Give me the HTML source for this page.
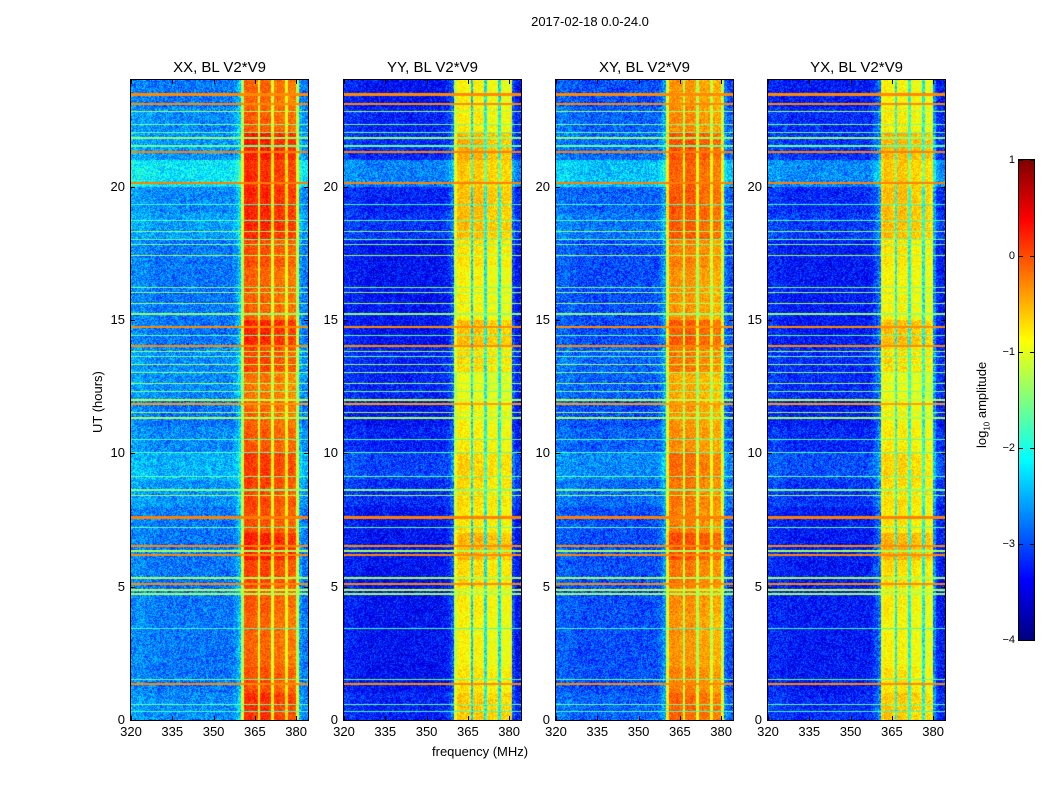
<!DOCTYPE html>
<html><head><meta charset="utf-8">
<style>
html,body{margin:0;padding:0;background:#fff;}
body{width:1050px;height:800px;position:relative;overflow:hidden;font-family:"Liberation Sans",sans-serif;color:#000;}
.t{position:absolute;white-space:nowrap;}
canvas{position:absolute;}
.frame{position:absolute;border:1px solid #000;box-sizing:border-box;}
</style></head>
<body>
<div class="t" style="left:0;width:1180px;text-align:center;top:14px;font-size:13px;">2017-02-18 0.0-24.0</div>
<div class="t" style="left:90px;top:433px;font-size:13px;transform:rotate(-90deg);transform-origin:left top;">UT (hours)</div>
<div class="t" style="left:432px;top:744px;font-size:13px;">frequency (MHz)</div>
<div id="root"></div>
<script>
// ---- data ----
const panelTitles = ["XX, BL V2*V9","YY, BL V2*V9","XY, BL V2*V9","YX, BL V2*V9"];
const panelLefts = [131,344,556,768];
const xTicks = [320,335,350,365,380];
const yTicks = [0,5,10,15,20];
const cbTicks = [1,0,-1,-2,-3,-4];
const freqStart = 320, freqEnd = 384.3, hourStart = 0, hourEnd = 24;
// log10 amplitude per 1-MHz channel (320..383) per polarisation
const profXX = [-2.4,-2.4,-2.4,-2.4,-2.4,-2.45,-2.45,-2.45,-2.45,-2.5,-2.5,-2.5,-2.5,-2.5,-2.5,-2.5,-2.5,-2.5,-2.5,-2.5,-2.5,-2.5,-2.5,-2.5,-2.5,-2.5,-2.5,-2.5,-2.5,-2.5,-2.5,-2.5,-2.5,-2.5,-2.5,-2.5,-2.5,-2.4,-2.3,-2.1,-1.5,-0.3,-0.25,-0.3,-0.3,-0.35,-1.3,-0.3,-0.3,-0.3,-0.35,-1.3,-0.4,-0.35,-0.4,-0.4,-1.2,-0.4,-0.4,-0.45,-1.4,-2.3,-2.5,-2.5];
const profYY = [-3.1,-3.1,-3.1,-3.1,-3.1,-3.15,-3.15,-3.15,-3.2,-3.2,-3.2,-3.2,-3.2,-3.2,-3.2,-3.2,-3.2,-3.2,-3.2,-3.2,-3.2,-3.2,-3.2,-3.2,-3.2,-3.2,-3.2,-3.2,-3.2,-3.2,-3.2,-3.2,-3.2,-3.2,-3.2,-3.2,-3.2,-3.1,-3.0,-2.8,-1.3,-0.9,-0.85,-0.9,-0.9,-0.95,-2.2,-0.9,-0.9,-0.9,-0.95,-2.0,-1.0,-0.95,-1.0,-1.0,-2.0,-1.0,-1.0,-1.0,-1.0,-2.9,-3.2,-3.2];
const profXY = [-2.7,-2.7,-2.7,-2.7,-2.7,-2.75,-2.75,-2.75,-2.8,-2.8,-2.8,-2.8,-2.8,-2.8,-2.8,-2.8,-2.8,-2.8,-2.8,-2.8,-2.8,-2.8,-2.8,-2.8,-2.8,-2.8,-2.8,-2.8,-2.8,-2.8,-2.8,-2.8,-2.8,-2.8,-2.8,-2.8,-2.8,-2.7,-2.6,-2.4,-1.2,-0.45,-0.4,-0.45,-0.45,-0.5,-1.4,-0.45,-0.45,-0.45,-0.5,-1.4,-0.55,-0.5,-0.55,-0.55,-1.3,-0.6,-0.6,-0.6,-1.3,-2.6,-2.8,-2.8];
const profYX = [-3.0,-3.0,-3.0,-3.0,-3.0,-3.05,-3.05,-3.1,-3.1,-3.1,-3.1,-3.1,-3.1,-3.1,-3.1,-3.1,-3.1,-3.1,-3.1,-3.1,-3.1,-3.1,-3.1,-3.1,-3.1,-3.1,-3.1,-3.1,-3.1,-3.1,-3.1,-3.1,-3.1,-3.1,-3.1,-3.1,-3.1,-3.05,-2.9,-2.8,-2.6,-1.0,-0.85,-0.9,-0.9,-0.95,-1.9,-0.9,-0.9,-0.9,-0.95,-1.8,-0.95,-0.95,-1.0,-1.0,-1.9,-1.0,-1.0,-1.1,-2.5,-3.0,-3.1,-3.1];
// per-panel level shifts: background and RFI band
const bgShift = [-0.3,-0.15,-0.2,-0.2];
const bandShift = [0.2,0.05,0.1,0.05];
// hourly offsets of background and RFI band
const bgGain = [0.1,0,0,0,0,0,0,0,0.15,0.3,0.1,0,0.1,0.1,0,0,0,0,0.2,0.1,0.6,0.15,0.1,0];
const bandGain = [0.25,0.1,0,0,0.05,0.15,0.35,0.1,0.15,0.2,0.05,0,-0.1,0.15,0.3,0,0,0.1,0.3,0.3,0.25,0.35,0.05,0];
// RFI lines: start hour, end hour, log10 level
const lineStart = [0.3,0.55,1.3,1.5,3.4,4.7,4.85,5.05,5.3,6.15,6.3,6.5,7.2,7.55,8.4,8.6,9.1,10.0,10.5,11.3,11.5,11.8,11.95,12.3,12.6,13.0,13.3,13.6,13.8,14.0,14.4,14.7,15.2,15.6,16.0,16.2,17.4,17.8,18.0,18.3,18.7,19.3,20.1,21.25,21.5,21.8,22.0,22.3,22.8,23.05,23.4];
const lineEnd   = [0.35,0.6,1.37,1.55,3.45,4.75,4.9,5.12,5.35,6.22,6.36,6.57,7.25,7.65,8.45,8.65,9.15,10.05,10.55,11.38,11.56,11.87,12.02,12.35,12.65,13.05,13.35,13.65,13.85,14.08,14.45,14.78,15.25,15.65,16.05,16.25,17.45,17.85,18.05,18.35,18.75,19.35,20.18,21.33,21.55,21.85,22.05,22.35,22.85,23.12,23.5];
const lineLevel = [-1.8,-1.6,-0.3,-1.6,-1.8,-1.3,-1.2,-0.3,-1.3,-0.3,-1.3,-0.3,-1.6,-0.25,-1.3,-1.5,-1.6,-1.7,-1.7,-1.3,-1.3,-0.4,-1.2,-1.5,-1.3,-1.4,-1.3,-1.6,-1.3,-0.3,-1.6,-0.3,-1.4,-1.3,-1.4,-1.5,-1.3,-1.5,-1.6,-1.4,-1.7,-1.8,-0.25,-0.25,-1.6,-1.4,-1.6,-1.5,-1.3,-0.3,-0.3];
const profiles = [profXX, profYY, profXY, profYX];

// ---- rendering ----
const PW=177, PH=640, TOP=80;
const xScale = f => (f-freqStart)/(freqEnd-freqStart)*PW;
const yScale = h => PH - (h-hourStart)/(hourEnd-hourStart)*PH;
const cmin=-4, cmax=1;
function jet(v){
  let x=(v-cmin)/(cmax-cmin); x=Math.max(0,Math.min(1,x));
  const c=t=>Math.round(255*Math.max(0,Math.min(1,t)));
  return [c(1.5-Math.abs(4*x-3)), c(1.5-Math.abs(4*x-2)), c(1.5-Math.abs(4*x-1))];
}
function hash(a,b,c){let h=(a*374761393+b*668265263+c*2147483647)|0;h=(h^(h>>>13))*1274126177|0;return ((h^(h>>>16))>>>0)/4294967296;}
const root=document.getElementById('root');
profiles.forEach((prof,p)=>{
  const L=panelLefts[p];
  const cv=document.createElement('canvas');
  cv.width=PW; cv.height=PH;
  cv.style.left=L+'px'; cv.style.top=TOP+'px';
  
  
  const ctx=cv.getContext('2d'); const img=ctx.createImageData(PW,PH);
  for(let y=0;y<PH;y++){
    const h=hourStart+(PH-y-0.5)/PH*(hourEnd-hourStart);
    const hb=Math.min(23,Math.floor(h));
    let lv=null;
    for(let i=0;i<lineStart.length;i++){ if(h>=lineStart[i]&&h<lineEnd[i]){lv=lineLevel[i];break;} }
    for(let x=0;x<PW;x++){
      const f=freqStart+(x+0.5)/PW*(freqEnd-freqStart);
      const fb=Math.min(prof.length-1,Math.floor(f-freqStart));
      const base=prof[fb];
      const band=base>-1.6;
      let v=base+(band?bandGain[hb]+bandShift[p]:bgGain[hb]+bgShift[p])+(hash(x,y,p)-0.5)*(band?0.5:0.9);
      if(lv!==null) v=lv;
      const [r,g,b]=jet(v); const k=(y*PW+x)*4;
      img.data[k]=r;img.data[k+1]=g;img.data[k+2]=b;img.data[k+3]=255;
    }
  }
  ctx.putImageData(img,0,0);
  root.appendChild(cv);
  const fr=document.createElement('div'); fr.className='frame';
  fr.style.cssText=`left:${L-1}px;top:${TOP-1}px;width:${PW+2}px;height:${PH+2}px;`;
  
  
  root.appendChild(fr);
  const t=document.createElement('div'); t.className='t';
  t.style.cssText=`left:${L}px;width:${PW}px;text-align:center;top:59px;font-size:15px;`;
  t.textContent=panelTitles[p];
  
  
  root.appendChild(t);
  xTicks.forEach(v=>{
    const x=L+xScale(v);
    const l=document.createElement('div'); l.className='t';
    l.style.cssText=`left:${x-20}px;width:40px;text-align:center;top:724px;font-size:13px;`;
    l.textContent=v;
    
    
    root.appendChild(l);
    [TOP, TOP+PH-4].forEach(yy=>{const m=document.createElement('div');m.style.cssText=`position:absolute;left:${x}px;top:${yy}px;width:1px;height:4px;background:#000;`;
    root.appendChild(m);});
  });
  yTicks.forEach(v=>{
    const y=TOP+yScale(v);
    const l=document.createElement('div'); l.className='t';
    l.style.cssText=`left:${L-36}px;width:30px;text-align:right;top:${y-8}px;font-size:13px;`;
    l.textContent=v;
    
    
    root.appendChild(l);
    [L, L+PW-4].forEach(xx=>{const m=document.createElement('div');m.style.cssText=`position:absolute;left:${xx}px;top:${y}px;width:4px;height:1px;background:#000;`;
    root.appendChild(m);});
  });
});
// colorbar
const CBL=1019, CBW=15, CBT=160, CBH=480;
const cb=document.createElement('canvas'); cb.width=CBW; cb.height=CBH;
cb.style.left=CBL+'px'; cb.style.top=CBT+'px';


const cctx=cb.getContext('2d');
for(let y=0;y<CBH;y++){const v=cmax-(y+0.5)/CBH*(cmax-cmin);const [r,g,b]=jet(v);cctx.fillStyle=`rgb(${r},${g},${b})`;cctx.fillRect(0,y,CBW,1);}
root.appendChild(cb);
const cf=document.createElement('div'); cf.className='frame';
cf.style.cssText=`left:${CBL-1}px;top:${CBT-1}px;width:${CBW+2}px;height:${CBH+2}px;`;


root.appendChild(cf);
cbTicks.forEach(v=>{
  const y=CBT+(cmax-v)/(cmax-cmin)*CBH;
  const l=document.createElement('div'); l.className='t';
  l.style.cssText=`left:${CBL-34}px;width:30px;text-align:right;top:${y-6}px;font-size:11px;`;
  l.textContent=v<0?'\u2212'+(-v):String(v);
  
  
  root.appendChild(l);
  [CBL, CBL+CBW-4].forEach(xx=>{const m=document.createElement('div');m.style.cssText=`position:absolute;left:${xx}px;top:${y}px;width:4px;height:1px;background:#000;`;
  root.appendChild(m);});
});
const cl=document.createElement('div'); cl.className='t';
cl.style.cssText='left:974px;top:448px;font-size:13px;transform:rotate(-90deg);transform-origin:left top;';
cl.innerHTML='log<sub style="font-size:8px">10</sub> amplitude';


root.appendChild(cl);
</script>
</body></html>
